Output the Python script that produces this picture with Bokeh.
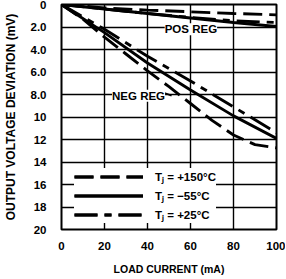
from bokeh.plotting import figure
from bokeh.models import Range1d, FixedTicker, Legend, LegendItem, Label
from bokeh.embed import file_html
from bokeh.resources import INLINE

FONT = "Liberation Sans"

# ---- data ----
load_ma = [0, 20, 40, 60, 80, 100]
load_ma_fine = [0, 10, 20, 30, 40, 50, 60, 70, 80, 90, 100]

# POS REG curves (mV)
pos_150 = [0, 0.3, 0.5, 0.65, 0.8, 0.92]
pos_25 = [0, 0.4, 0.8, 1.15, 1.45, 1.6]
pos_m55 = [0, 0.4, 0.8, 1.2, 1.6, 1.95]

# NEG REG curves (mV)
neg_m55 = [0, 2.5, 5.2, 7.6, 9.9, 11.9]
neg_25 = [0, 2.2, 4.6, 6.8, 9.1, 11.4]
neg_150 = [0, 1.3, 2.9, 4.4, 5.9, 7.3, 8.8, 10.3, 11.6, 12.45, 12.75]

x_ticks = [0, 20, 40, 60, 80, 100]
x_grid = [20, 40, 60, 80]
y_ticks = [0, 2, 4, 6, 8, 10, 12, 14, 16, 18, 20]
y_tick_labels = ["0", "2.0", "4.0", "6.0", "8.0", "10", "12", "14", "16", "18", "20"]

labels = ["T\u2C7C = +150\u00B0C", "T\u2C7C = \u221255\u00B0C", "T\u2C7C = +25\u00B0C"]

p = figure(width=285, height=277, output_backend="svg", toolbar_location=None,
           x_range=Range1d(0, 100), y_range=Range1d(20, 0),
           min_border_left=55, min_border_right=9, min_border_top=4, min_border_bottom=46)
p.background_fill_color = "white"
p.border_fill_color = "white"
p.outline_line_color = "black"
p.outline_line_width = 2
p.outline_line_alpha = 1

# axes
p.xaxis.ticker = FixedTicker(ticks=x_ticks)
p.yaxis.ticker = FixedTicker(ticks=y_ticks)
p.yaxis.major_label_overrides = {t: l for t, l in zip(y_ticks, y_tick_labels)}
for ax in (p.xaxis[0], p.yaxis[0]):
    ax.axis_line_color = None
    ax.major_tick_line_color = None
    ax.minor_tick_line_color = None
    ax.major_label_text_font = FONT
    ax.major_label_text_font_style = "bold"
    ax.major_label_text_color = "black"
    ax.axis_label_text_font = FONT
    ax.axis_label_text_font_style = "bold"
    ax.axis_label_text_color = "black"
p.xaxis.axis_label_text_font_size = "10.5px"
p.yaxis.axis_label_text_font_size = "12px"
p.xaxis.major_label_text_font_size = "11.5px"
p.yaxis.major_label_text_font_size = "11.5px"
p.xaxis.major_label_standoff = 6
p.yaxis.major_label_standoff = 9
p.xaxis.axis_label = "LOAD CURRENT (mA)"
p.yaxis.axis_label = "OUTPUT VOLTAGE DEVIATION (mV)"
p.xaxis.axis_label_standoff = 10
p.yaxis.axis_label_standoff = 10

# grid
p.xgrid.ticker = FixedTicker(ticks=x_grid)
p.ygrid.ticker = FixedTicker(ticks=y_ticks)
for g in (p.xgrid[0], p.ygrid[0]):
    g.grid_line_color = "black"
    g.grid_line_width = 1.4
    g.grid_line_alpha = 1

W = 2.9
DASH = "19 7"
DASHDOT = "23 7 7 7"

r_p150 = p.line(load_ma, pos_150, line_color="black", line_width=W, line_dash=DASH)
r_p25 = p.line(load_ma, pos_25, line_color="black", line_width=W, line_dash=DASHDOT)
r_pm55 = p.line(load_ma, pos_m55, line_color="black", line_width=W)

r_n150 = p.line(load_ma_fine, neg_150, line_color="black", line_width=W, line_dash=DASH)
r_n25 = p.line(load_ma, neg_25, line_color="black", line_width=W, line_dash=DASHDOT)
r_nm55 = p.line(load_ma, neg_m55, line_color="black", line_width=W)

# curve labels
for txt, xx, yy in (("POS REG", 48.0, 2.2), ("NEG REG", 23.5, 8.1)):
    p.add_layout(Label(x=xx, y=yy, text=txt, text_baseline="middle", text_align="left",
                       text_font=FONT, text_font_style="bold", text_font_size="11.5px",
                       text_color="black", background_fill_color="white",
                       background_fill_alpha=1))
p.segment(x0=[47.6], y0=[7.85], x1=[51.2], y1=[8.1], line_color="black", line_width=1.6)

legend = Legend(items=[
    LegendItem(label=labels[0], renderers=[r_p150, r_n150]),
    LegendItem(label=labels[1], renderers=[r_pm55, r_nm55]),
    LegendItem(label=labels[2], renderers=[r_p25, r_n25]),
], location=(13, 6))
legend.border_line_color = None
legend.background_fill_color = "white"
legend.background_fill_alpha = 1
legend.label_text_font = FONT
legend.label_text_font_style = "bold"
legend.label_text_font_size = "11.5px"
legend.label_text_color = "black"
legend.glyph_width = 69
legend.glyph_height = 17
legend.label_height = 17
legend.label_standoff = 12
legend.spacing = 2
legend.padding = 3
legend.margin = 0
p.add_layout(legend)

open("out.html", "w").write(file_html(p, INLINE))
